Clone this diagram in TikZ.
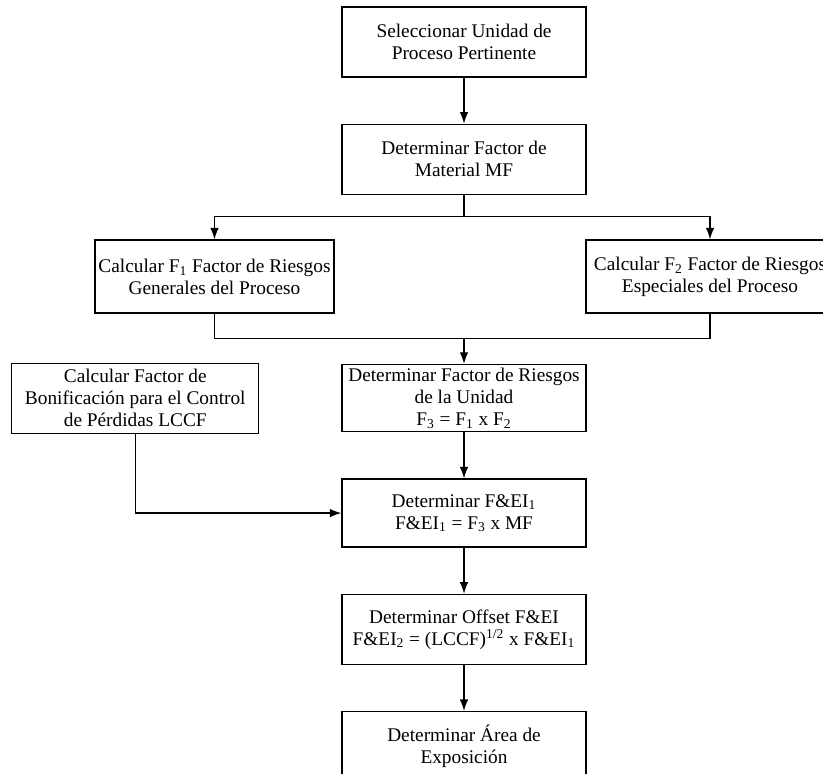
\documentclass[tikz,border=0pt]{standalone}
\usepackage{fontspec}
\setmainfont{Liberation Serif}
\usetikzlibrary{positioning,arrows.meta}

\begin{document}
\begin{tikzpicture} [
	node distance = 9.2mm,
	box/.style = {
		draw=black,
		line width=0.7pt,
		minimum width=4.88cm,
		minimum height=1.4cm,
		inner sep=2pt,
		align=center,
		font=\fontsize{11}{12.5}\selectfont
	},
	arr/.style = {draw, line width=0.7pt, -{Latex[length=2.3mm,width=1.7mm]}}
]
\useasboundingbox (0,0) rectangle (16.46,-15.46);

\node (sel) [box] at (9.28,-0.84) {Seleccionar Unidad de\\ Proceso Pertinente};
\node (mf) [box, below=of sel] {Determinar Factor de\\ Material MF};

\node (f1) [box, minimum width=4.78cm, minimum height=1.46cm] at (4.29,-5.53)
	{Calcular F\textsubscript{1} Factor de Riesgos\\ Generales del Proceso};
\node (f2) [box, minimum width=4.96cm, minimum height=1.46cm] at (14.2,-5.53)
	{Calcular F\textsubscript{2} Factor de Riesgos\\ Especiales del Proceso};

\node (f3) [box, minimum height=1.34cm, below=3.38cm of mf] {
Determinar Factor de Riesgos\\ de la Unidad\\
F\textsubscript{3} = F\textsubscript{1} x F\textsubscript{2}
};
\node (lccf) [box, minimum width=4.94cm, left=1.64cm of f3] {
Calcular Factor de\\ Bonificación para el Control\\ de Pérdidas LCCF
};
\node (fei) [box, minimum height=1.36cm, below=of f3] {
Determinar F\&EI\textsubscript{1}\\ F\&EI\textsubscript{1} = F\textsubscript{3} x MF
};
\node (offset) [box, below=of fei] {
Determinar Offset F\&EI\\
F\&EI\textsubscript{2} = (LCCF)\textsuperscript{1/2} x F\&EI\textsubscript{1}
};
\node (area) [box, below=of offset] {Determinar Área de\\ Exposición};

\path (mf.south) ++(0,-0.44) coordinate (split);
\path (f3.north) ++(0,0.5) coordinate (join);

\draw[arr]   (sel) -- (mf);
\draw[line width=0.7pt]   (mf) -- (split);
\draw[arr]   (split) -| (f1);
\draw[arr]   (split) -| (f2);
\draw[line width=0.7pt]   (f1) |- (join);
\draw[line width=0.7pt]   (f2) |- (join);
\draw[arr]   (join) -- (f3);
\draw[arr]   (f3) -- (fei);
\draw[arr]   (lccf) |- (fei);
\draw[arr]   (fei) -- (offset);
\draw[arr]   (offset) -- (area);

\end{tikzpicture}
\end{document}
